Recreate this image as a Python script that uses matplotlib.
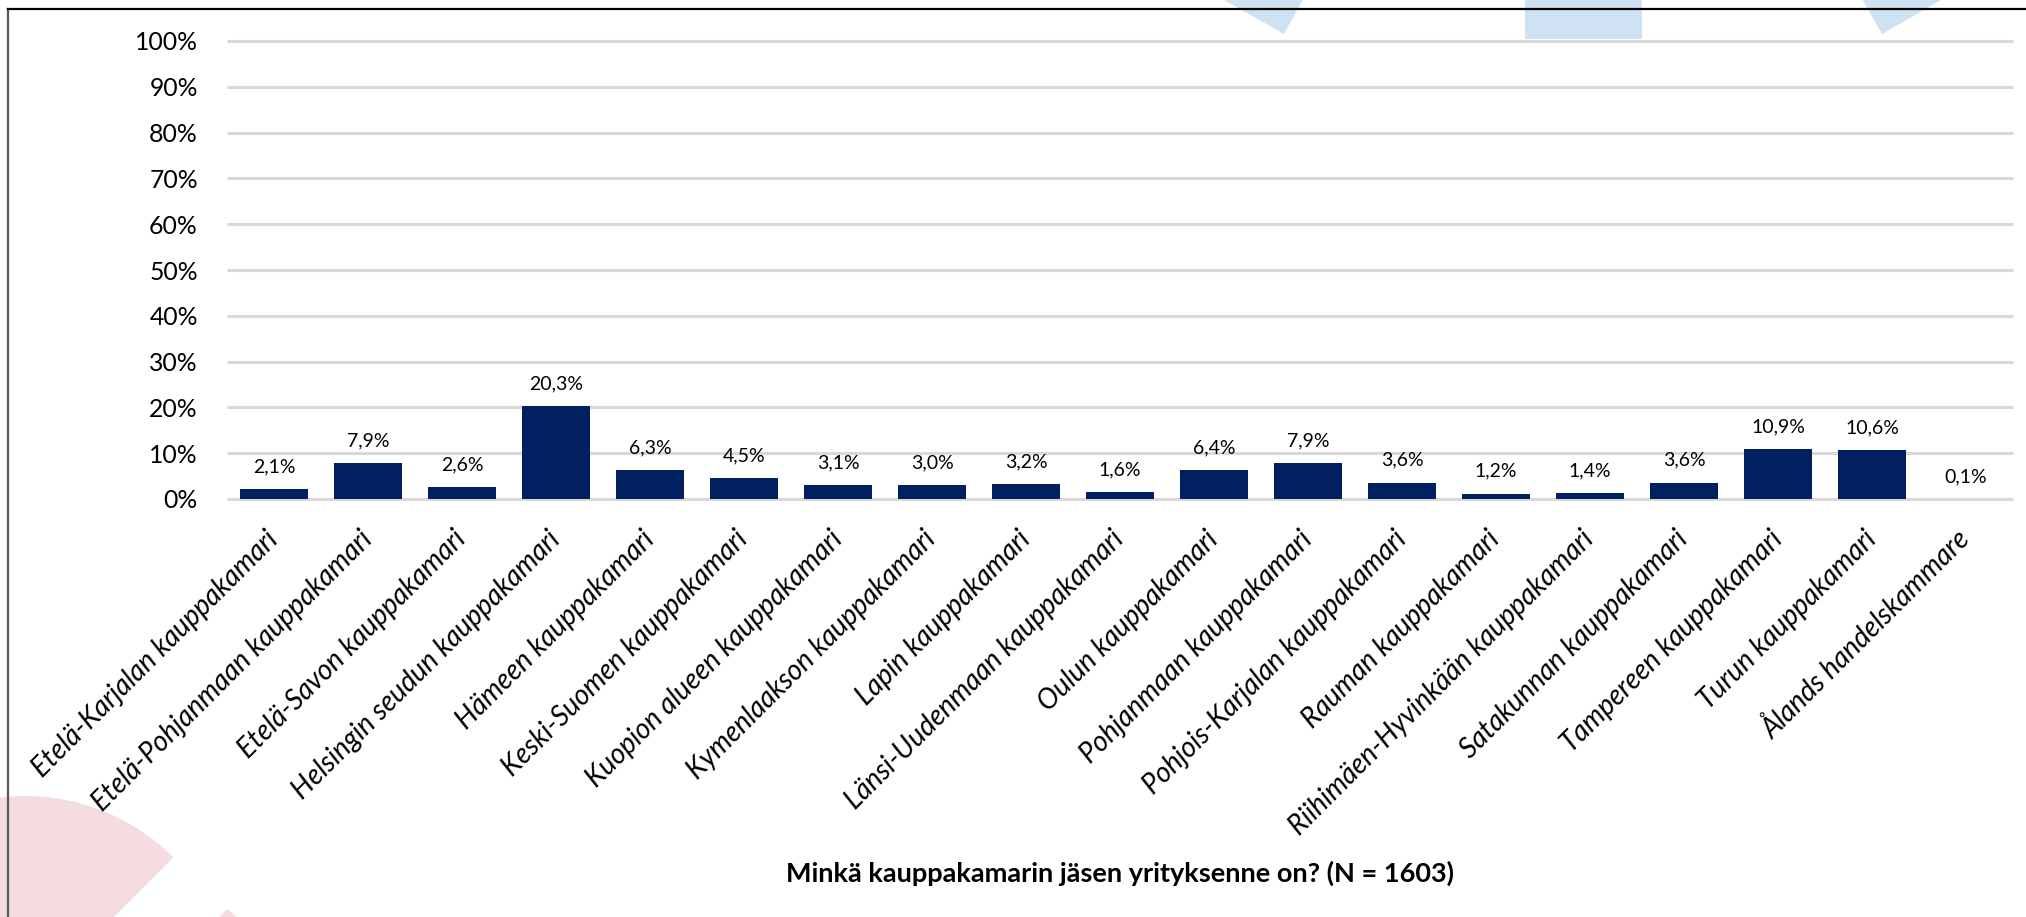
import numpy as np
import matplotlib.pyplot as plt
from matplotlib.patches import Polygon, Wedge, Rectangle

categories = [
    "Etelä-Karjalan kauppakamari",
    "Etelä-Pohjanmaan kauppakamari",
    "Etelä-Savon kauppakamari",
    "Helsingin seudun kauppakamari",
    "Hämeen kauppakamari",
    "Keski-Suomen kauppakamari",
    "Kuopion alueen kauppakamari",
    "Kymenlaakson kauppakamari",
    "Lapin kauppakamari",
    "Länsi-Uudenmaan kauppakamari",
    "Oulun kauppakamari",
    "Pohjanmaan kauppakamari",
    "Pohjois-Karjalan kauppakamari",
    "Rauman kauppakamari",
    "Riihimäen-Hyvinkään kauppakamari",
    "Satakunnan kauppakamari",
    "Tampereen kauppakamari",
    "Turun kauppakamari",
    "Ålands handelskammare",
]
values = [2.1, 7.9, 2.6, 20.3, 6.3, 4.5, 3.1, 3.0, 3.2, 1.6,
          6.4, 7.9, 3.6, 1.2, 1.4, 3.6, 10.9, 10.6, 0.1]
yticks = list(range(0, 101, 10))
ytick_labels = [f"{t}%" for t in yticks]
title = "Minkä kauppakamarin jäsen yrityksenne on? (N = 1603)"

plt.rcParams['font.family'] = ['Lato', 'DejaVu Sans']

W, H = 2026, 917
fig = plt.figure(figsize=(W / 100, H / 100), dpi=100)

# background decoration in pixel coordinates
bg = fig.add_axes([0, 0, 1, 1], zorder=0)
bg.set_xlim(0, W)
bg.set_ylim(H, 0)
bg.axis('off')
blue = '#cfe2f3'
pink = '#f4dce1'
bg.add_patch(Polygon([(1210, -8), (1307, -8), (1284, 34)], closed=True, color=blue, lw=0))
bg.add_patch(Rectangle((1525, -5), 117, 44, color=blue, lw=0))
bg.add_patch(Polygon([(1858, -8), (1955, -8), (1882, 34)], closed=True, color=blue, lw=0))
bg.add_patch(Wedge((25, 1006), 210, 135, 315, color=pink, lw=0))
bg.add_patch(Polygon([(227, 909), (217, 920), (240, 920)], closed=True, color=pink, lw=0))
bg.plot([8, 8], [9, H], color='#595959', lw=1.6)
bg.plot([8, W], [9, 9], color='black', lw=1.6)

ax = fig.add_axes([227 / W, 1 - 499 / H, (2013 - 227) / W, (499 - 41) / H], zorder=1)
ax.patch.set_alpha(0)
x = np.arange(len(categories))
ax.hlines(yticks, -0.5, len(categories) - 0.5, color='#d9d9d9', lw=2.2, zorder=0, clip_on=False)
bars = ax.bar(x, values, width=0.72, color='#002060', zorder=2)
for xi, v in zip(x, values):
    ax.annotate(f"{v:.1f}%".replace('.', ','), (xi, v), xytext=(0, 12), textcoords='offset points',
                ha='center', va='baseline', fontsize=14, color='black')

ax.set_xlim(-0.5, len(categories) - 0.5)
ax.set_ylim(0, 100)
ax.set_yticks(yticks, ytick_labels, fontsize=17.8)
ax.set_xticks(x, categories, rotation=45, ha='right', va='center', rotation_mode='anchor',
              fontsize=20, style='italic')
ax.tick_params(axis='y', length=0, pad=21)
ax.tick_params(axis='x', length=0, pad=26)
for s in ax.spines.values():
    s.set_visible(False)

fig.text(1120 / W, 1 - 873 / H, title, ha='center', va='center', fontsize=19.5, fontweight='bold')

fig.savefig('out.png', dpi=100)
